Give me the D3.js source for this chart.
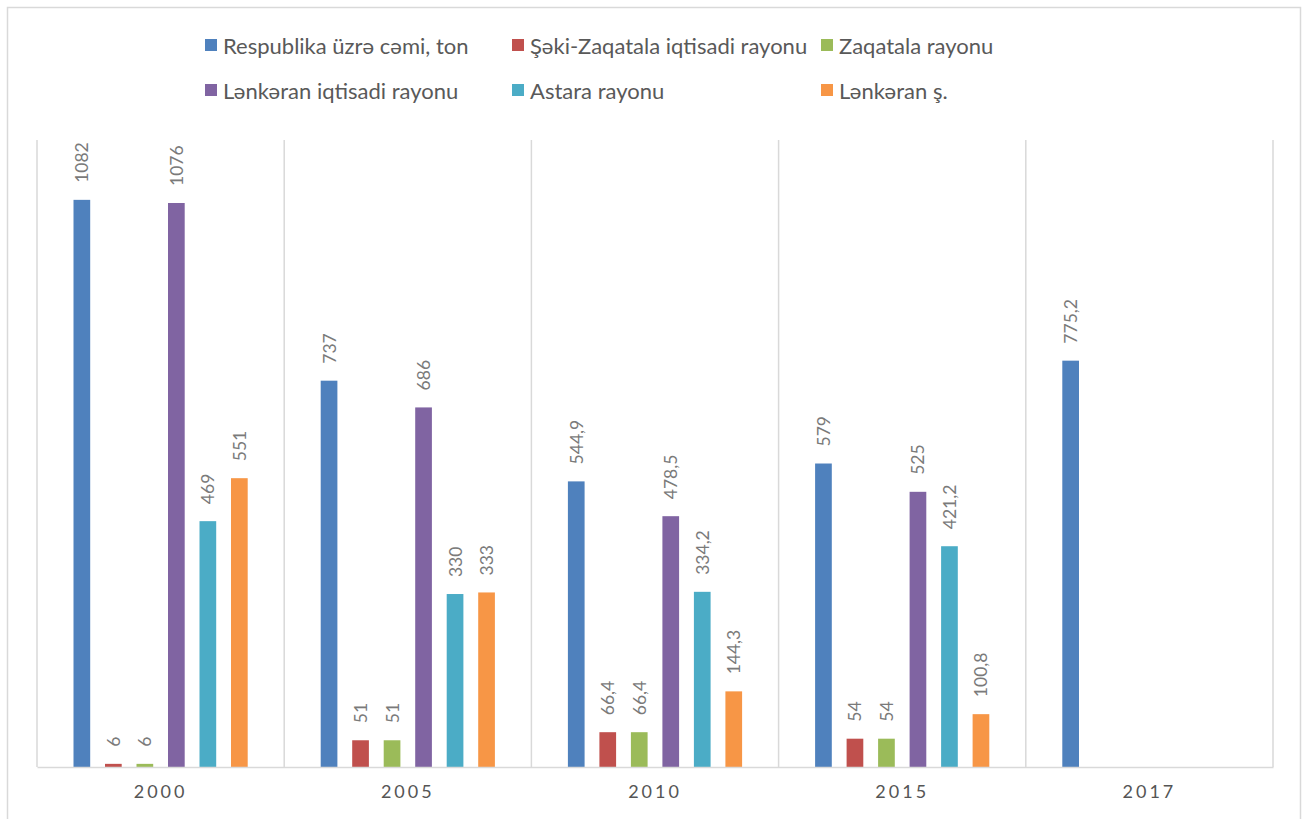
<!DOCTYPE html>
<html>
<head>
<meta charset="utf-8">
<script src="https://cdn.jsdelivr.net/npm/d3@7"></script>
<style>
  html, body { margin: 0; padding: 0; background: #fff; }
  svg { display: block; }
</style>
</head>
<body>
<svg id="chart" width="1302" height="819"></svg>
<script>
const years = ["2000", "2005", "2010", "2015", "2017"];
const seriesNames = [
  "Respublika üzrə cəmi, ton",
  "Şəki-Zaqatala iqtisadi rayonu",
  "Zaqatala rayonu",
  "Lənkəran iqtisadi rayonu",
  "Astara rayonu",
  "Lənkəran ş."
];
const respublika = [1082, 737, 544.9, 579, 775.2];
const sekiZaqatala = [6, 51, 66.4, 54, null];
const zaqatala = [6, 51, 66.4, 54, null];
const lenkeranIqtisadi = [1076, 686, 478.5, 525, null];
const astara = [469, 330, 334.2, 421.2, null];
const lenkeranS = [551, 333, 144.3, 100.8, null];
const seriesColors = ["#4F81BD", "#C0504D", "#9BBB59", "#8064A2", "#4BACC6", "#F79646"];
const yMax = 1200;

const seriesValues = [respublika, sekiZaqatala, zaqatala, lenkeranIqtisadi, astara, lenkeranS];

const svg = d3.select("#chart");
const font = "Lato, 'Noto Sans', sans-serif";

// outer chart border
svg.append("rect")
  .attr("x", 7.5).attr("y", 7.5)
  .attr("width", 1293).attr("height", 830)
  .attr("fill", "none").attr("stroke", "#d9d9d9").attr("stroke-width", 1.5);

const plot = { left: 37, right: 1273, top: 140, bottom: 767 };

const x0 = d3.scaleBand().domain(years).range([plot.left, plot.right]).padding(0);
const x1 = d3.scaleBand().domain(d3.range(seriesNames.length))
  .range([36.5, x0.bandwidth() - 36.5]).paddingInner(0.47).paddingOuter(0);
const y = d3.scaleLinear().domain([0, yMax]).range([plot.bottom, plot.top - 2]);

// vertical category gridlines
const bounds = years.map(yr => x0(yr)).concat([plot.right]);
svg.append("g").selectAll("line").data(bounds).join("line")
  .attr("x1", d => d).attr("x2", d => d)
  .attr("y1", plot.top).attr("y2", plot.bottom)
  .attr("stroke", "#d9d9d9").attr("stroke-width", 1.5);

// bars
const rows = [];
years.forEach((yr, i) => {
  seriesValues.forEach((vals, s) => {
    if (vals[i] != null) rows.push({ yr, s, v: vals[i] });
  });
});

svg.append("g").selectAll("rect").data(rows).join("rect")
  .attr("x", d => x0(d.yr) + x1(d.s))
  .attr("width", x1.bandwidth())
  .attr("y", d => y(d.v))
  .attr("height", d => plot.bottom - y(d.v))
  .attr("fill", d => seriesColors[d.s]);

// data labels
svg.append("g").selectAll("text").data(rows).join("text")
  .attr("transform", d => `translate(${x0(d.yr) + x1(d.s) + x1.bandwidth() / 2},${y(d.v) - 17}) rotate(-90)`)
  .attr("text-anchor", "start")
  .attr("dominant-baseline", "central")
  .attr("font-family", font)
  .attr("font-size", 17.5)
  .attr("fill", "#7a7a7a")
  .text(d => String(d.v).replace(".", ","));

// x axis line
const xAxis = d3.axisBottom(x0).tickSize(0).tickPadding(18);
const gx = svg.append("g").attr("transform", `translate(0,${plot.bottom})`).call(xAxis);
gx.select(".domain").attr("stroke", "#d9d9d9").attr("stroke-width", 1.5);
gx.selectAll("text")
  .attr("font-family", font)
  .attr("font-size", 18)
  .attr("letter-spacing", "3px")
  .attr("fill", "#555555");

// legend
const legendPos = [
  { x: 205, y: 45 }, { x: 512, y: 45 }, { x: 821, y: 45 },
  { x: 205, y: 90 }, { x: 512, y: 90 }, { x: 821, y: 90 }
];
const lg = svg.append("g").selectAll("g").data(seriesNames).join("g")
  .attr("transform", (d, i) => `translate(${legendPos[i].x},${legendPos[i].y})`);
lg.append("rect").attr("x", 0).attr("y", -6).attr("width", 12).attr("height", 12)
  .attr("fill", (d, i) => seriesColors[i]);
lg.append("text").attr("x", 18).attr("y", 0)
  .attr("dominant-baseline", "central")
  .attr("font-family", font)
  .attr("font-size", 22)
  .attr("fill", "#595959")
  .text(d => d);
</script>
</body>
</html>
